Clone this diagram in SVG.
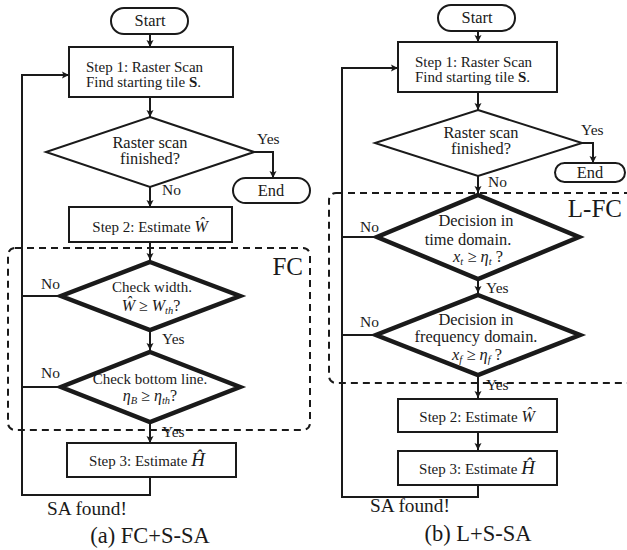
<svg xmlns="http://www.w3.org/2000/svg" width="627" height="550" viewBox="0 0 627 550">
<style>
text{font-family:"Liberation Serif","Times New Roman",serif;fill:#1a1a1a}
.t15{font-size:15px}
.t16{font-size:16.4px}
.lbl{font-size:15.5px}
.m{font-style:italic}
.sub{font-style:italic;font-size:10.5px}
.box{fill:#fff;stroke:#1a1a1a;stroke-width:2}
.dthin{fill:#fff;stroke:#1a1a1a;stroke-width:2}
.dthick{fill:#fff;stroke:#1a1a1a;stroke-width:4.5;stroke-linejoin:miter}
.ln{fill:none;stroke:#1a1a1a;stroke-width:2}
.dash{fill:none;stroke:#1a1a1a;stroke-width:2;stroke-dasharray:7,5}
</style>
<defs>
<marker id="ah" viewBox="0 0 10 10" refX="10" refY="5" markerWidth="7" markerHeight="9" markerUnits="userSpaceOnUse" orient="auto">
<path d="M0,0 L10,5 L0,10 L2,5 z" fill="#1a1a1a"/>
</marker>
</defs>

<!-- dashed groups -->
<g id="fc-region">
<rect class="dash" x="8" y="248" width="302" height="182" rx="7"/>
<text x="303" y="275" text-anchor="end" style="font-size:25px">FC</text>
</g>
<g id="lfc-region">
<rect class="dash" x="329" y="193" width="310" height="190" rx="7"/>
<text x="622" y="217" text-anchor="end" style="font-size:25px">L-FC</text>
</g>

<!-- connectors -->
<g id="connectors">
<line class="ln" x1="150" y1="34" x2="150" y2="47" marker-end="url(#ah)"/>
<line class="ln" x1="150" y1="97" x2="150" y2="117" marker-end="url(#ah)"/>
<polyline class="ln" points="254,152 273,152 273,178" marker-end="url(#ah)"/>
<line class="ln" x1="150" y1="187" x2="150" y2="207" marker-end="url(#ah)"/>
<line class="ln" x1="150" y1="242" x2="150" y2="260" marker-end="url(#ah)"/>
<line class="ln" x1="150" y1="331" x2="150" y2="350" marker-end="url(#ah)"/>
<line class="ln" x1="150" y1="423" x2="150" y2="443" marker-end="url(#ah)"/>
<polyline class="ln" points="150,477 150,495 22,495 22,75 69,75" marker-end="url(#ah)"/>
<line class="ln" x1="60" y1="296" x2="22" y2="296"/>
<line class="ln" x1="60" y1="387" x2="22" y2="387"/>
<text class="lbl" x="257" y="144">Yes</text>
<text class="lbl" x="162" y="195">No</text>
<text class="lbl" x="41" y="289">No</text>
<text class="lbl" x="162" y="344">Yes</text>
<text class="lbl" x="41" y="378">No</text>
<text class="lbl" x="162" y="437">Yes</text>
<line class="ln" x1="478" y1="31" x2="478" y2="42" marker-end="url(#ah)"/>
<line class="ln" x1="478" y1="92" x2="478" y2="110" marker-end="url(#ah)"/>
<polyline class="ln" points="582,143 593,143 593,163" marker-end="url(#ah)"/>
<line class="ln" x1="478" y1="176" x2="478" y2="193" marker-end="url(#ah)"/>
<line class="ln" x1="478" y1="281" x2="478" y2="293" marker-end="url(#ah)"/>
<line class="ln" x1="478" y1="377" x2="478" y2="398" marker-end="url(#ah)"/>
<line class="ln" x1="478" y1="432" x2="478" y2="450" marker-end="url(#ah)"/>
<polyline class="ln" points="478,485 478,497 342,497 342,68 398,68" marker-end="url(#ah)"/>
<line class="ln" x1="375" y1="237" x2="342" y2="237"/>
<line class="ln" x1="374" y1="335" x2="342" y2="335"/>
<text class="lbl" x="581" y="135">Yes</text>
<text class="lbl" x="488" y="187">No</text>
<text class="lbl" x="360" y="232">No</text>
<text class="lbl" x="486" y="293">Yes</text>
<text class="lbl" x="360" y="327">No</text>
<text class="lbl" x="486" y="390">Yes</text>
</g>

<!-- left panel nodes -->
<g id="a-start">
<rect class="box" x="111" y="8" width="77" height="26" rx="13"/>
<text class="t16" x="150" y="26" text-anchor="middle">Start</text>
</g>
<g id="a-step1">
<rect class="box" x="69" y="47" width="164" height="50"/>
<text class="t15" x="86" y="72">Step 1: Raster Scan</text>
<text class="t15" x="86" y="87">Find starting tile <tspan font-weight="bold">S</tspan>.</text>
</g>
<g id="a-dec-raster">
<polygon class="dthin" points="150,117 254,152 150,187 46,152"/>
<text class="t16" x="150" y="148" text-anchor="middle">Raster scan</text>
<text class="t16" x="150" y="164" text-anchor="middle">finished?</text>
</g>
<g id="a-end">
<rect class="box" x="233" y="178" width="77" height="25" rx="12.5"/>
<text class="t16" x="271" y="196" text-anchor="middle">End</text>
</g>
<g id="a-step2">
<rect class="box" x="69" y="207" width="163" height="35"/>
<text class="t15" x="150" y="232" text-anchor="middle">Step 2: Estimate <tspan class="m" font-size="16">Ŵ</tspan></text>
</g>
<g id="a-dec-width">
<polygon class="dthick" points="150,262 240,296 150,330 61,296"/>
<text class="t15" x="152" y="292" text-anchor="middle">Check width.</text>
<text x="151" y="311" text-anchor="middle" font-size="16"><tspan class="m">Ŵ</tspan> ≥ <tspan class="m">W</tspan><tspan class="sub" dy="2.5">th</tspan><tspan dy="-2.5">?</tspan></text>
</g>
<g id="a-dec-bottom">
<polygon class="dthick" points="150,352 240,387 150,422 61,387"/>
<text class="t15" x="150" y="384" text-anchor="middle">Check bottom line.</text>
<text x="150" y="401" text-anchor="middle" font-size="16"><tspan class="m">η</tspan><tspan class="sub" dy="2.5">B</tspan><tspan dy="-2.5"> ≥ </tspan><tspan class="m">η</tspan><tspan class="sub" dy="2.5">th</tspan><tspan dy="-2.5">?</tspan></text>
</g>
<g id="a-step3">
<rect class="box" x="67" y="443" width="169" height="34"/>
<text class="t15" x="147" y="466" text-anchor="middle">Step 3: Estimate <tspan class="m" font-size="19">Ĥ</tspan></text>
</g>
<text x="47" y="515" style="font-size:19.3px">SA found!</text>
<text x="150" y="543" text-anchor="middle" style="font-size:22.5px">(a) FC+S-SA</text>

<!-- right panel nodes -->
<g id="b-start">
<rect class="box" x="438" y="5" width="77" height="26" rx="13"/>
<text class="t16" x="477" y="23" text-anchor="middle">Start</text>
</g>
<g id="b-step1">
<rect class="box" x="398" y="42" width="159" height="50"/>
<text class="t15" x="415" y="67">Step 1: Raster Scan</text>
<text class="t15" x="415" y="82">Find starting tile <tspan font-weight="bold">S</tspan>.</text>
</g>
<g id="b-dec-raster">
<polygon class="dthin" points="478,110 582,143 478,176 375,143"/>
<text class="t16" x="481" y="138" text-anchor="middle">Raster scan</text>
<text class="t16" x="481" y="154" text-anchor="middle">finished?</text>
</g>
<g id="b-end">
<rect class="box" x="555" y="163" width="70" height="19" rx="9.5"/>
<text class="t16" x="590" y="178" text-anchor="middle">End</text>
</g>
<g id="b-dec-time">
<polygon class="dthick" points="478,195 579,237 478,279 377,237"/>
<text class="t16" x="476" y="226" text-anchor="middle">Decision in</text>
<text class="t16" x="468" y="245" text-anchor="middle">time domain.</text>
<text x="478" y="262" text-anchor="middle" font-size="16.4"><tspan class="m">x</tspan><tspan class="sub" dy="2.5">t</tspan><tspan dy="-2.5"> ≥ </tspan><tspan class="m">η</tspan><tspan class="sub" dy="2.5">t</tspan><tspan dy="-2.5">  ?</tspan></text>
</g>
<g id="b-dec-freq">
<polygon class="dthick" points="478,295 580,335 478,375 376,335"/>
<text class="t16" x="476" y="325" text-anchor="middle">Decision in</text>
<text class="t16" x="476" y="342" text-anchor="middle">frequency domain.</text>
<text x="477" y="360" text-anchor="middle" font-size="16.4"><tspan class="m">x</tspan><tspan class="sub" dy="2.5">f</tspan><tspan dy="-2.5"> ≥ </tspan><tspan class="m">η</tspan><tspan class="sub" dy="2.5">f</tspan><tspan dy="-2.5">  ?</tspan></text>
</g>
<g id="b-step2">
<rect class="box" x="398" y="399" width="159" height="33"/>
<text class="t15" x="477" y="422" text-anchor="middle">Step 2: Estimate <tspan class="m" font-size="16">Ŵ</tspan></text>
</g>
<g id="b-step3">
<rect class="box" x="398" y="451" width="159" height="34"/>
<text class="t15" x="477" y="474" text-anchor="middle">Step 3: Estimate <tspan class="m" font-size="19">Ĥ</tspan></text>
</g>
<text x="370" y="512" style="font-size:19.3px">SA found!</text>
<text x="478" y="541" text-anchor="middle" style="font-size:22.5px">(b) L+S-SA</text>
</svg>
